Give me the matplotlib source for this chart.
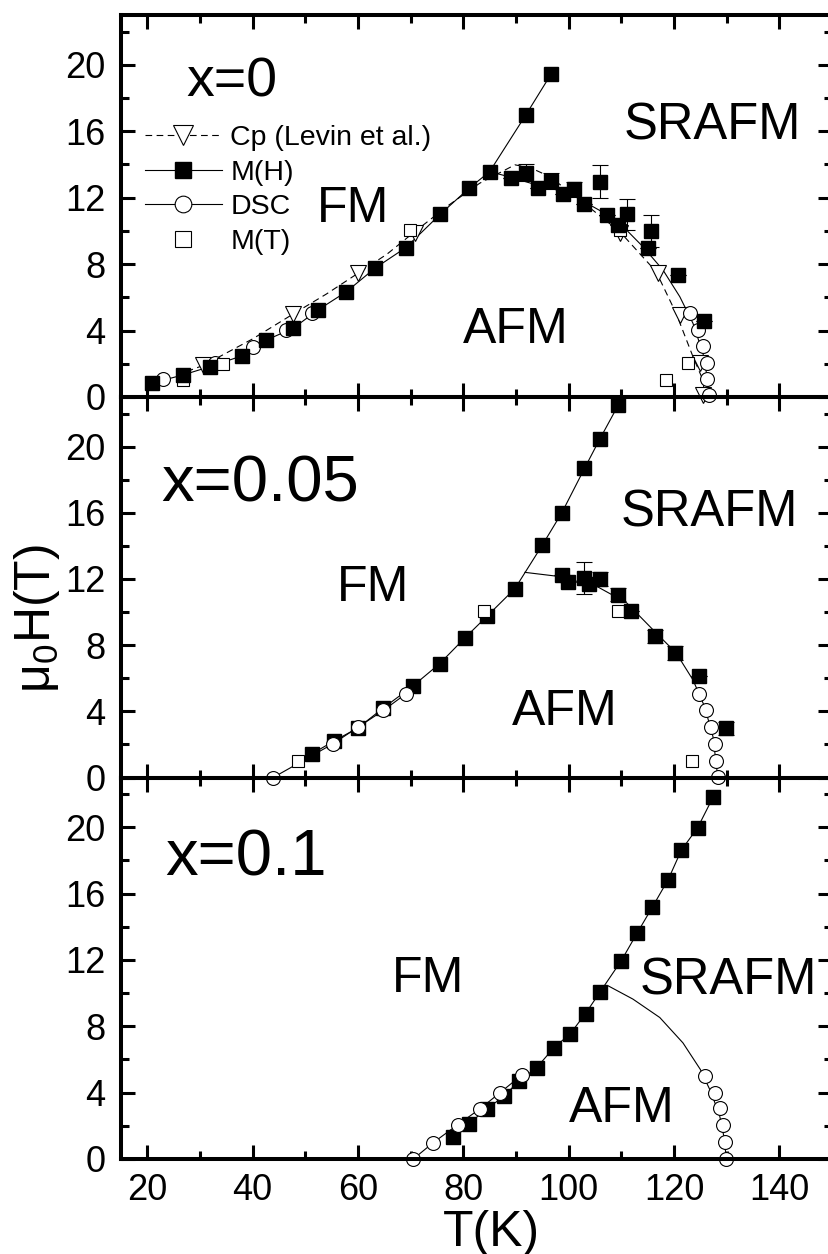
import numpy as np
import matplotlib
matplotlib.use('Agg')
import matplotlib.pyplot as plt
from matplotlib.lines import Line2D

plt.rcParams['font.family'] = ['Liberation Sans', 'DejaVu Sans']
plt.rcParams['mathtext.fontset'] = 'custom'
plt.rcParams['mathtext.rm'] = 'Liberation Sans'
plt.rcParams['mathtext.it'] = 'Liberation Sans'

# ---------------- x = 0 ----------------
# M(H) rising branch (FM boundary), joined by a line
mh0_T = [20.8, 26.8, 31.9, 37.9, 42.6, 47.7, 52.4, 57.8, 63.2, 69.1, 75.6, 81.1, 85.0, 91.9, 96.7]
mh0_H = [0.83, 1.33, 1.83, 2.47, 3.43, 4.14, 5.24, 6.34, 7.75, 9.0, 11.0, 12.57, 13.57, 17.0, 19.46]
# M(H) on the AFM boundary, with error bars
mh0b_T = [89.1, 91.9, 94.1, 96.7, 98.9, 101.0, 103.0, 105.9, 107.2, 109.4, 111.0, 115.1, 115.7, 120.8, 125.7]
mh0b_H = [13.17, 13.5, 12.57, 13.0, 12.2, 12.5, 11.6, 12.97, 10.96, 10.36, 11.0, 9.0, 10.0, 7.35, 4.6]
mh0b_err = [0, 0.5, 0, 0.5, 0, 0.45, 0, 1.0, 0, 0, 0.95, 0, 0.95, 0, 0]
# solid boundary line AFM/SRAFM
bnd0_T = [85.0, 88.2, 93.9, 100.2, 104.0, 109.1, 114.1, 117.9, 121.1, 123.6, 125.5, 126.4, 126.8]
bnd0_H = [13.57, 13.3, 12.77, 12.27, 11.57, 10.66, 9.05, 7.65, 6.04, 4.44, 2.63, 1.02, 0.0]
# Cp (Levin et al.)
cp0_T = [30.6, 47.7, 60.0, 70.8, 109.7, 117.0, 121.1, 124.9, 125.5]
cp0_H = [1.9, 5.0, 7.45, 9.9, 9.9, 7.45, 4.94, 2.02, 0.1]
cpl0_T = [25.5, 30.6, 40.0, 47.7, 54.0, 60.0, 65.5, 70.8, 77.0, 83.1, 89.8, 92.9, 96.4, 102.0, 109.7, 116.6, 120.4, 123.6, 125.5, 125.8]
cpl0_H = [1.3, 1.9, 3.5, 5.0, 6.2, 7.45, 8.6, 9.96, 11.5, 12.87, 13.98, 13.78, 13.27, 11.9, 9.96, 7.55, 5.04, 2.43, 1.02, 0.1]
# DSC
dsc0_T = [23.0, 32.8, 40.1, 46.4, 51.2, 123.0, 124.5, 125.5, 126.2, 126.2, 126.6]
dsc0_H = [1.06, 2.07, 3.03, 4.04, 5.04, 5.04, 4.04, 3.07, 2.07, 1.07, 0.1]
# M(T)
mt0_T = [26.8, 34.4, 69.8, 109.7, 118.4, 122.7]
mt0_H = [1.0, 2.0, 10.06, 10.06, 1.02, 2.03]

# ---------------- x = 0.05 ----------------
mh5_T = [51.2, 55.4, 60.0, 64.8, 70.5, 75.5, 80.3, 84.5, 89.8, 95.0, 98.7, 103.0, 105.9, 109.4, 112.0]
mh5_H = [1.42, 2.2, 3.0, 4.2, 5.55, 6.88, 8.44, 9.75, 11.42, 14.05, 16.0, 18.68, 20.45, 22.5, 24.0]
mh5b_T = [98.7, 99.9, 103.0, 103.9, 105.9, 109.4, 111.9, 116.3, 120.1, 124.7, 129.8]
mh5b_H = [12.27, 11.8, 12.07, 11.67, 12.0, 11.06, 10.05, 8.53, 7.53, 6.15, 2.98]
mh5b_err = [0, 0, 0.97, 0, 0.4, 0.4, 0, 0.4, 0.4, 0, 0.4]
bnd5_T = [91.7, 97.7, 105.3, 111.0, 116.6, 120.4, 123.6, 125.8, 127.4, 128.3]
bnd5_H = [12.4, 12.17, 11.56, 10.56, 8.74, 7.53, 5.9, 4.29, 2.47, 0.05]
dsc5_T = [43.9, 55.2, 60.0, 64.8, 69.1, 124.7, 126.1, 127.1, 127.7, 127.9, 128.3]
dsc5_H = [0.0, 2.03, 3.04, 4.05, 5.06, 5.06, 4.05, 3.04, 2.03, 1.02, 0.05]
mt5_T = [48.6, 83.9, 109.4, 123.4]
mt5_H = [1.02, 10.05, 10.05, 1.02]

# ---------------- x = 0.1 ----------------
mh10_T = [78.1, 81.0, 84.4, 87.7, 90.5, 93.9, 97.2, 100.3, 103.2, 105.9, 110.0, 113.0, 115.9, 118.9, 121.4, 124.5, 127.4]
mh10_H = [1.35, 2.12, 3.01, 3.78, 4.69, 5.5, 6.71, 7.55, 8.77, 10.04, 11.96, 13.62, 15.19, 16.85, 18.62, 19.98, 21.8]
bnd10_T = [107.5, 112.2, 117.3, 121.7, 125.0, 127.1, 128.7, 129.6, 129.9]
bnd10_H = [10.44, 9.64, 8.53, 7.0, 5.4, 3.98, 2.56, 1.15, 0.0]
dsc10_T = [70.5, 74.3, 78.9, 83.1, 86.9, 91.2, 125.8, 127.7, 128.8, 129.3, 129.7, 129.9]
dsc10_H = [0.0, 0.99, 2.06, 3.01, 3.98, 5.09, 4.99, 3.98, 3.07, 2.06, 1.05, 0.0]

ms = 9.5
lw = 0.8
dash = (0, (6, 4))

W, H = 829, 1254
fig = plt.figure(figsize=(W / 100, H / 100), dpi=100)

def px_axes(top, bottom):
    left, right = 121, 832
    return fig.add_axes([left / W, 1 - bottom / H, (right - left) / W, (bottom - top) / H])

ax0 = px_axes(15, 397)
ax1 = px_axes(397, 777.5)
ax2 = px_axes(777.5, 1159)
axes = [ax0, ax1, ax2]

for ax in axes:
    ax.set_facecolor('none')
    ax.set_xlim(15, 150)
    ax.set_ylim(0, 23)
    ax.set_xticks(np.arange(20, 150, 20))
    ax.set_xticks(np.arange(30, 150, 20), minor=True)
    ax.set_yticks(np.arange(0, 21, 4))
    ax.set_yticks(np.arange(2, 23, 4), minor=True)
    ax.tick_params(which='both', direction='in', top=True, right=True, width=2.2)
    ax.tick_params(which='major', length=10, labelsize=26, pad=10)
    ax.tick_params(which='minor', length=6)
    ax.tick_params(axis='y', which='major', pad=11)
    for s in ax.spines.values():
        s.set_linewidth(2.9)
ax0.tick_params(labelbottom=False)
ax1.tick_params(labelbottom=False)

# ---- panel x=0 ----
ax0.plot(cpl0_T, cpl0_H, color='k', lw=lw, linestyle=dash)
ax0.plot(mh0_T, mh0_H, color='k', lw=lw)
ax0.plot(bnd0_T, bnd0_H, color='k', lw=lw)
ax0.plot(cp0_T, cp0_H, 'v', ms=11, mfc='white', mec='k', mew=0.8, clip_on=False)
ax0.plot(dsc0_T, dsc0_H, 'o', ms=10, mfc='white', mec='k', mew=0.8, clip_on=False)
ax0.plot(mt0_T, mt0_H, 's', ms=9, mfc='white', mec='k', mew=0.8, clip_on=False)
ax0.plot(mh0_T, mh0_H, 's', ms=ms, color='k', clip_on=False)
ax0.errorbar(mh0b_T, mh0b_H, yerr=mh0b_err, fmt='s', ms=ms, color='k', ecolor='k',
             elinewidth=lw, capsize=6, capthick=lw, clip_on=False)

handles = [
    Line2D([], [], color='k', lw=lw, linestyle=dash, marker='v', ms=14, mfc='white', mec='k', mew=0.8),
    Line2D([], [], color='k', lw=lw, marker='s', ms=11, mfc='k', mec='k'),
    Line2D([], [], color='k', lw=lw, marker='o', ms=12, mfc='white', mec='k', mew=0.8),
    Line2D([], [], color='none', marker='s', ms=11, mfc='white', mec='k', mew=0.8),
]
labels = ['Cp (Levin et al.)', 'M(H)', 'DSC', 'M(T)']
ax0.legend(handles, labels, loc='upper left', bbox_to_anchor=(24 / 711, (397 - 125) / 382),
           frameon=False, fontsize=20.5, handlelength=2.7, handletextpad=0.3,
           labelspacing=0.3, borderpad=0, borderaxespad=0)

ax0.text(36.1, 18.07, 'x=0', fontsize=40, ha='center', va='baseline')
ax0.text(59.0, 10.56, 'FM', fontsize=36, ha='center', va='baseline')
ax0.text(127.2, 15.48, 'SRAFM', fontsize=36.5, ha='center', va='baseline')
ax0.text(90.05, 3.23, 'AFM', fontsize=36, ha='center', va='baseline')

# ---- panel x=0.05 ----
ax1.plot(mh5_T, mh5_H, color='k', lw=lw)
ax1.plot(dsc5_T[:5], dsc5_H[:5], color='k', lw=lw)
ax1.plot(bnd5_T, bnd5_H, color='k', lw=lw)
ax1.plot(mh5_T[:-1], mh5_H[:-1], 's', ms=ms, color='k', clip_on=False)
ax1.errorbar(mh5b_T, mh5b_H, yerr=mh5b_err, fmt='s', ms=ms, color='k', ecolor='k',
             elinewidth=lw, capsize=6, capthick=lw, clip_on=False)
ax1.plot(dsc5_T, dsc5_H, 'o', ms=10, mfc='white', mec='k', mew=0.8, clip_on=False)
ax1.plot(mt5_T, mt5_H, 's', ms=9, mfc='white', mec='k', mew=0.8, clip_on=False)

ax1.text(41.4, 16.7, 'x=0.05', fontsize=47, ha='center', va='baseline')
ax1.text(62.8, 10.65, 'FM', fontsize=36, ha='center', va='baseline')
ax1.text(126.8, 15.2, 'SRAFM', fontsize=36.5, ha='center', va='baseline')
ax1.text(99.2, 3.18, 'AFM', fontsize=36, ha='center', va='baseline')

# ---- panel x=0.1 ----
ax2.plot(mh10_T, mh10_H, color='k', lw=lw)
ax2.plot(dsc10_T[:6], dsc10_H[:6], color='k', lw=lw)
ax2.plot(bnd10_T, bnd10_H, color='k', lw=lw)
ax2.plot(mh10_T, mh10_H, 's', ms=ms, color='k', clip_on=False)
ax2.plot(dsc10_T, dsc10_H, 'o', ms=10, mfc='white', mec='k', mew=0.8, clip_on=False)

ax2.text(38.7, 17.1, 'x=0.1', fontsize=47, ha='center', va='baseline')
ax2.text(73.3, 10.04, 'FM', fontsize=36, ha='center', va='baseline')
ax2.text(130.4, 9.94, 'SRAFM', fontsize=36.5, ha='center', va='baseline')
ax2.text(110.0, 2.26, 'AFM', fontsize=36, ha='center', va='baseline')

fig.text(491.7 / W, 1 - 1246 / H, 'T(K)', fontsize=36, ha='center', va='baseline')
fig.text(37 / W, 1 - 619 / H, r'$\mathrm{\mu_0}$H(T)', fontsize=36, rotation=90,
         ha='center', va='center')

fig.savefig('out.png', dpi=100)
